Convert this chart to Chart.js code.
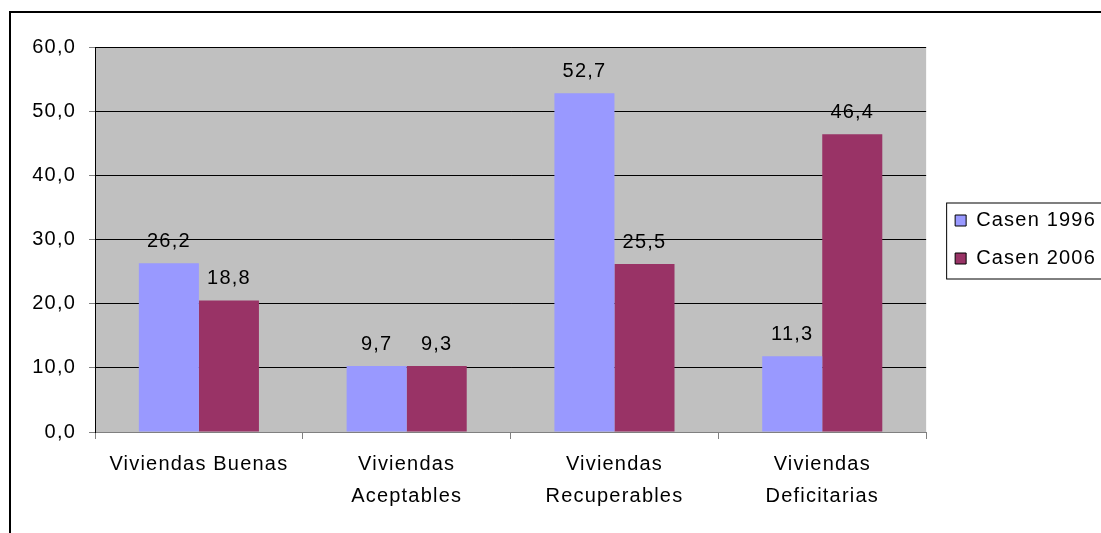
<!DOCTYPE html>
<html>
<head>
<meta charset="utf-8">
<script src="https://cdn.jsdelivr.net/npm/chart.js@4.4.1/dist/chart.umd.min.js"></script>
<style>
  html, body { margin: 0; padding: 0; background: #fff; }
  canvas { display: block; }
</style>
</head>
<body>
<canvas id="viviendasChart" width="1101" height="533"></canvas>
<script>
// Data
const categories = ['Viviendas Buenas', ['Viviendas', 'Aceptables'], ['Viviendas', 'Recuperables'], ['Viviendas', 'Deficitarias']];
const seriesNames = ['Casen 1996', 'Casen 2006'];
const casen1996 = [26.3, 10.3, 52.8, 11.8];
const casen2006 = [20.5, 10.3, 26.2, 46.4];
const labels1996 = ['26,2', '9,7', '52,7', '11,3'];
const labels2006 = ['18,8', '9,3', '25,5', '46,4'];
const yTickLabels = ['0,0', '10,0', '20,0', '30,0', '40,0', '50,0', '60,0'];

const FONT = "'Liberation Sans', Arial, sans-serif";
const SPACING = '1.2px';

const decor = {
    id: 'decor',
    beforeUpdate(chart) {
        chart.ctx.letterSpacing = SPACING;
    },
    beforeDraw(chart) {
        const { ctx, chartArea: a } = chart;
        ctx.save();
        ctx.fillStyle = '#fff';
        ctx.fillRect(0, 0, chart.width, chart.height);
        // grey plot area
        ctx.fillStyle = '#c0c0c0';
        ctx.fillRect(a.left, a.top, a.right - a.left, a.bottom - a.top);
        // outer frame, runs off the right and bottom edge
        ctx.strokeStyle = '#000';
        ctx.lineWidth = 2;
        ctx.strokeRect(10, 12, chart.width + 20, chart.height + 20);
        ctx.restore();
        ctx.letterSpacing = SPACING;
    },
    afterDatasetsDraw(chart) {
        const ctx = chart.ctx;
        const texts = [labels1996, labels2006];
        ctx.save();
        ctx.letterSpacing = SPACING;
        ctx.font = '20px ' + FONT;
        ctx.fillStyle = '#000';
        ctx.textAlign = 'center';
        ctx.textBaseline = 'alphabetic';
        chart.data.datasets.forEach((ds, di) => {
            chart.getDatasetMeta(di).data.forEach((bar, i) => {
                ctx.fillText(texts[di][i], bar.x, bar.y - 16);
            });
        });
        ctx.restore();
    },
    afterDraw(chart) {
        // box round the legend
        const boxes = chart.legend.legendHitBoxes;
        if (!boxes || !boxes.length) return;
        const first = boxes[0];
        const last = boxes[boxes.length - 1];
        const ctx = chart.ctx;
        ctx.save();
        ctx.strokeStyle = '#000';
        ctx.lineWidth = 1;
        ctx.strokeRect(first.left - 8.5, first.top - 7.5, chart.width, last.top + last.height - first.top + 18);
        ctx.restore();
    }
};

const canvas = document.getElementById('viviendasChart');
canvas.getContext('2d').letterSpacing = SPACING;

new Chart(canvas, {
    type: 'bar',
    data: {
        labels: categories,
        datasets: [
            {
                label: seriesNames[0],
                data: casen1996,
                backgroundColor: '#9999ff',
                borderWidth: 0
            },
            {
                label: seriesNames[1],
                data: casen2006,
                backgroundColor: '#993366',
                borderWidth: 0
            }
        ]
    },
    options: {
        responsive: false,
        maintainAspectRatio: false,
        devicePixelRatio: 1,
        animation: false,
        layout: {
            padding: { left: 0, top: 47, right: -5, bottom: 0 }
        },
        datasets: {
            bar: { categoryPercentage: 0.578, barPercentage: 1 }
        },
        scales: {
            x: {
                grid: {
                    display: true,
                    drawOnChartArea: false,
                    offset: true,
                    tickLength: 7,
                    tickColor: '#808080'
                },
                border: { color: '#808080', width: 1 },
                ticks: {
                    color: '#000',
                    font: { family: FONT, size: 20, lineHeight: 1.6 },
                    padding: 9,
                    maxRotation: 0,
                    autoSkip: false
                },
                afterFit(scale) { scale.height = 101; }
            },
            y: {
                min: 0,
                max: 60,
                grid: {
                    color: c => (c.tick && c.tick.value === 0 ? '#808080' : '#000'),
                    lineWidth: 1,
                    tickLength: 6,
                    tickColor: '#808080'
                },
                border: { color: '#000', width: 1 },
                ticks: {
                    stepSize: 10,
                    color: '#000',
                    font: { family: FONT, size: 20 },
                    padding: 13,
                    callback: (v, i) => yTickLabels[i]
                },
                afterFit(scale) { scale.width = 95; }
            },
            gap: {
                position: 'right',
                display: true,
                grid: { display: false },
                border: { display: false },
                ticks: { display: false },
                afterFit(scale) { scale.width = 11; }
            }
        },
        plugins: {
            legend: {
                position: 'right',
                fullSize: false,
                labels: {
                    boxWidth: 11,
                    boxHeight: 11,
                    padding: 18,
                    color: '#000',
                    font: { family: FONT, size: 20 },
                    generateLabels(chart) {
                        return chart.data.datasets.map((ds, i) => ({
                            text: ds.label,
                            fillStyle: ds.backgroundColor,
                            strokeStyle: '#000',
                            lineWidth: 1,
                            datasetIndex: i
                        }));
                    }
                }
            },
            tooltip: { enabled: false }
        }
    },
    plugins: [decor]
});
</script>
</body>
</html>
